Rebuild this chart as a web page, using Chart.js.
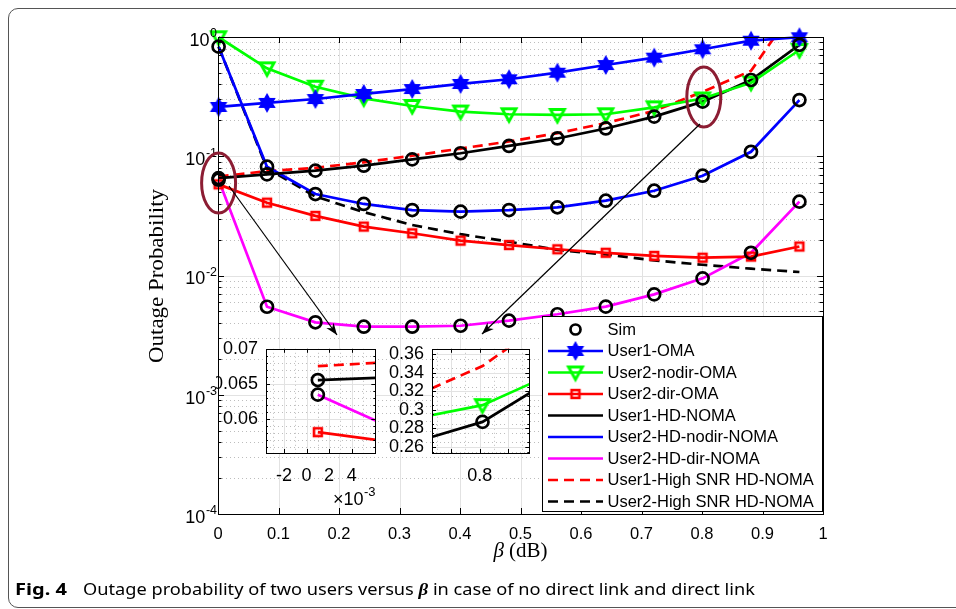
<!DOCTYPE html>
<html><head><meta charset="utf-8">
<script src="https://cdn.jsdelivr.net/npm/chart.js@4.4.1/dist/chart.umd.min.js"></script>
<style>
html,body{margin:0;padding:0;background:#fff;width:956px;height:609px;overflow:hidden;}
#frame{position:absolute;left:8px;top:8px;width:1000px;height:598px;border:1px solid #555;border-radius:10px;}
canvas{position:absolute;}
</style></head><body>
<div id="frame"></div>
<canvas id="main" width="956" height="609" style="left:0;top:0"></canvas>
<canvas id="insetL" width="170" height="180" style="left:216px;top:330px"></canvas>
<canvas id="insetR" width="154" height="160" style="left:386px;top:330px"></canvas>
<script>
// ---------------- data ----------------
const beta = [0.001, 0.081, 0.161, 0.241, 0.321, 0.401, 0.481, 0.561, 0.641, 0.721, 0.801, 0.881, 0.961];
const user1OMA      = [0.259, 0.280, 0.302, 0.333, 0.366, 0.404, 0.442, 0.502, 0.582, 0.671, 0.789, 0.931, 0.995];
const user2NodirOMA = [0.995, 0.546, 0.383, 0.306, 0.264, 0.237, 0.225, 0.222, 0.225, 0.257, 0.305, 0.414, 0.778];
const user2DirOMA   = [0.0581, 0.0408, 0.0316, 0.0257, 0.0226, 0.0196, 0.0180, 0.0166, 0.0155, 0.0146, 0.0141, 0.0144, 0.0175];
const user1HDNOMA   = [0.0656, 0.0705, 0.0757, 0.0833, 0.0942, 0.106, 0.122, 0.141, 0.171, 0.215, 0.287, 0.436, 0.86];
const user2HDNodir  = [0.83, 0.0817, 0.0482, 0.0398, 0.0354, 0.0343, 0.0354, 0.0373, 0.0424, 0.0514, 0.0687, 0.109, 0.296];
const user2HDDir    = [0.0635, 0.00547, 0.00405, 0.00372, 0.00372, 0.00379, 0.00418, 0.00473, 0.00548, 0.00695, 0.00946, 0.0155, 0.0416];
const user1HighSNR  = [0.0676, 0.075, 0.080, 0.089, 0.101, 0.116, 0.133, 0.156, 0.19, 0.24, 0.347, 0.52, 2.0];
const user2HighSNR  = [0.83, 0.079, 0.046, 0.034, 0.0265, 0.0222, 0.0192, 0.0164, 0.0150, 0.0134, 0.0123, 0.0114, 0.0107];

const seriesLabels = ['Sim','User1-OMA','User2-nodir-OMA','User2-dir-OMA','User1-HD-NOMA','User2-HD-nodir-NOMA','User2-HD-dir-NOMA','User1-High SNR HD-NOMA','User2-High SNR HD-NOMA'];
const xTickValues = [0,0.1,0.2,0.3,0.4,0.5,0.6,0.7,0.8,0.9,1];
const yDecadeExps = [-4,-3,-2,-1,0];
const insetLXTicks = [-0.002, 0, 0.002, 0.004];
const insetLYTicks = [0.06, 0.065, 0.07];
const insetRXTicks = [0.8];
const insetRYTicks = [0.26, 0.28, 0.30, 0.32, 0.34, 0.36];
const captionBold = 'Fig. 4';
const captionParts = ['Outage probability of two users versus ', 'β', ' in case of no direct link and direct link'];

// ---------------- markers ----------------
function mk(size, fn){const c=document.createElement('canvas');c.width=c.height=size;const g=c.getContext('2d');g.translate(size/2,size/2);fn(g);return c;}
const starImg = mk(22, g=>{g.beginPath();for(let i=0;i<12;i++){const r=i%2===0?8.6:4.9;const a=-Math.PI/2+i*Math.PI/6;g.lineTo(r*Math.cos(a),r*Math.sin(a));}g.closePath();g.fillStyle='#0000ff';g.fill();g.lineWidth=1.4;g.strokeStyle='#0000ff';g.stroke();});
const triImg = mk(22, g=>{g.beginPath();g.moveTo(-7,-5.5);g.lineTo(7,-5.5);g.lineTo(0,7);g.closePath();g.lineWidth=2.9;g.lineJoin='miter';g.strokeStyle='#00ff00';g.stroke();});
const sqImg = mk(14, g=>{g.lineWidth=2.6;g.strokeStyle='#ff0000';g.strokeRect(-3.9,-3.9,7.8,7.8);});

const pts = arr => beta.map((b,i)=>({x:b,y:arr[i]}));
function buildDatasets(inset){
  const mclip = inset ? 0 : 14;
  return [
    {label:seriesLabels[0], data:[...pts(user1HDNOMA),...pts(user2HDNodir),...pts(user2HDDir)], showLine:false, pointStyle:'circle', pointRadius:6, pointBorderWidth:2.7, pointBorderColor:'#000', pointBackgroundColor:'rgba(0,0,0,0)', borderColor:'#000', clip:mclip},
    {label:seriesLabels[1], data:pts(user1OMA), borderColor:'#0000ff', borderWidth:2.7, pointStyle:starImg, pointRadius:8, clip:mclip},
    {label:seriesLabels[2], data:pts(user2NodirOMA), borderColor:'#00ff00', borderWidth:2.7, pointStyle:triImg, pointRadius:8, clip:mclip},
    {label:seriesLabels[3], data:pts(user2DirOMA), borderColor:'#ff0000', borderWidth:2.7, pointStyle:sqImg, pointRadius:6, clip:mclip},
    {label:seriesLabels[4], data:pts(user1HDNOMA), borderColor:'#000000', borderWidth:2.7, pointRadius:0, clip:inset?0:2},
    {label:seriesLabels[5], data:pts(user2HDNodir), borderColor:'#0000ff', borderWidth:2.7, pointRadius:0, clip:inset?0:2},
    {label:seriesLabels[6], data:pts(user2HDDir), borderColor:'#ff00ff', borderWidth:2.7, pointRadius:0, clip:inset?0:2},
    {label:seriesLabels[7], data:pts(user1HighSNR), borderColor:'#ff0000', borderWidth:2.7, borderDash:[10,6], pointRadius:0, clip:inset?0:1},
    {label:seriesLabels[8], data:pts(user2HighSNR), borderColor:'#000000', borderWidth:2.7, borderDash:[10,6], pointRadius:0, clip:inset?0:1}
  ];
}

function hline(ctx,x1,x2,y){ctx.beginPath();ctx.moveTo(x1,y);ctx.lineTo(x2,y);ctx.stroke();}
function vline(ctx,x,y1,y2){ctx.beginPath();ctx.moveTo(x,y1);ctx.lineTo(x,y2);ctx.stroke();}
const px = v => Math.round(v)+0.5;

function supLabel(ctx, base, exp, R, ty, bf, ef){
  ctx.textBaseline='middle'; ctx.textAlign='left';
  ctx.font=ef; const ew=ctx.measureText(exp).width;
  ctx.font=bf; const bw=ctx.measureText(base).width;
  ctx.fillText(base, R-ew-bw-0.5, ty+4);
  ctx.font=ef; ctx.fillText(exp, R-ew, ty-3);
}
function arrow(ctx,x1,y1,x2,y2){
  ctx.beginPath();ctx.moveTo(x1,y1);ctx.lineTo(x2,y2);ctx.stroke();
  const a=Math.atan2(y2-y1,x2-x1),L=12,W=4.5;
  ctx.beginPath();ctx.moveTo(x2,y2);
  ctx.lineTo(x2-L*Math.cos(a)+W*Math.sin(a), y2-L*Math.sin(a)-W*Math.cos(a));
  ctx.lineTo(x2-0.7*L*Math.cos(a), y2-0.7*L*Math.sin(a));
  ctx.lineTo(x2-L*Math.cos(a)-W*Math.sin(a), y2-L*Math.sin(a)+W*Math.cos(a));
  ctx.closePath();ctx.fill();
}

const mainPlugin = {
  id:'mainDeco',
  beforeDatasetsDraw(chart){
    const {ctx, chartArea:a, scales:{x,y}} = chart;
    ctx.save(); ctx.lineWidth=1;
    ctx.strokeStyle='#bdbdbd'; ctx.setLineDash([1,3]);
    yDecadeExps.slice(0,-1).forEach(e=>{for(let m=2;m<=9;m++){hline(ctx,a.left,a.right,px(y.getPixelForValue(m*Math.pow(10,e))));}});
    ctx.setLineDash([]); ctx.strokeStyle='#e2e2e2';
    xTickValues.slice(1,-1).forEach(v=>vline(ctx,px(x.getPixelForValue(v)),a.top,a.bottom));
    yDecadeExps.slice(1,-1).forEach(e=>hline(ctx,a.left,a.right,px(y.getPixelForValue(Math.pow(10,e)))));
    ctx.restore();
  },
  afterDatasetsDraw(chart){
    const {ctx, chartArea:a, scales:{x,y}} = chart;
    ctx.save();
    ctx.strokeStyle='#000'; ctx.lineWidth=1;
    ctx.strokeRect(px(a.left),px(a.top),Math.round(a.right-a.left),Math.round(a.bottom-a.top));
    xTickValues.forEach(v=>{const p=px(x.getPixelForValue(v));vline(ctx,p,a.bottom,a.bottom-6);vline(ctx,p,a.top,a.top+6);});
    yDecadeExps.forEach((e,i)=>{
      const p=px(y.getPixelForValue(Math.pow(10,e)));hline(ctx,a.left,a.left+6,p);hline(ctx,a.right,a.right-6,p);
      if(i<yDecadeExps.length-1){for(let m=2;m<=9;m++){const q=px(y.getPixelForValue(m*Math.pow(10,e)));hline(ctx,a.left,a.left+3.5,q);hline(ctx,a.right,a.right-3.5,q);}}
    });
    ctx.fillStyle='#000';
    yDecadeExps.forEach(e=>supLabel(ctx,'10',String(e),217,y.getPixelForValue(Math.pow(10,e)),'18px "Liberation Sans"','12.5px "Liberation Sans"'));
    ctx.strokeStyle='#8c1d33'; ctx.lineWidth=3;
    [[0.001,0.0597],[0.803,0.314]].forEach(([ex,ey])=>{ctx.beginPath();ctx.ellipse(x.getPixelForValue(ex),y.getPixelForValue(ey),17,30,0,0,Math.PI*2);ctx.stroke();});
    ctx.strokeStyle='#000'; ctx.fillStyle='#000'; ctx.lineWidth=1.2;
    arrow(ctx,229,186,337,335);
    arrow(ctx,700,124,482,334);
    // legend
    const L=542.5,T=316.5,W=280,H=195;
    ctx.lineWidth=1; ctx.fillStyle='#fff'; ctx.fillRect(L,T,W,H); ctx.strokeStyle='#000'; ctx.strokeRect(L,T,W,H);
    chart.data.datasets.forEach((ds,i)=>{
      const cy=329.5+i*21.5;
      if(ds.showLine!==false){ctx.save();ctx.strokeStyle=ds.borderColor;ctx.lineWidth=ds.borderWidth;ctx.setLineDash(ds.borderDash||[]);hline(ctx,548,603,cy);ctx.restore();}
      const ps=ds.pointStyle;
      if(ps && typeof ps==='object'){ctx.drawImage(ps,575.5-ps.width/2,cy-ps.height/2);}
      else if(ps==='circle' && ds.pointRadius>0){ctx.save();ctx.strokeStyle='#000';ctx.lineWidth=2.7;ctx.beginPath();ctx.arc(575.5,cy,5,0,Math.PI*2);ctx.stroke();ctx.restore();}
      ctx.fillStyle='#000';ctx.font='16.5px "Liberation Sans"';ctx.textAlign='left';ctx.textBaseline='middle';
      ctx.fillText(ds.label,607.5,cy+0.5);
    });
    // axis titles
    ctx.fillStyle='#000';
    ctx.save(); ctx.translate(157,276); ctx.rotate(-Math.PI/2);
    ctx.font='21px "Liberation Serif"'; ctx.textAlign='center'; ctx.textBaseline='middle';
    const yt='Outage Probability'; const yw=ctx.measureText(yt).width; ctx.scale(174/yw,1); ctx.fillText(yt,0,0); ctx.restore();
    ctx.textBaseline='middle'; ctx.textAlign='left';
    ctx.font='italic 21px "Liberation Serif"'; const bw=ctx.measureText('β').width;
    ctx.font='21px "Liberation Serif"'; const rw=ctx.measureText(' (dB)').width;
    const cx=(a.left+a.right)/2, sx=cx-(bw+rw)/2;
    ctx.font='italic 21px "Liberation Serif"'; ctx.fillText('β',sx,551);
    ctx.font='21px "Liberation Serif"'; ctx.fillText(' (dB)',sx+bw,551);
    // caption
    ctx.textBaseline='alphabetic';
    ctx.save(); ctx.font='bold 16px "Noto Sans"'; const fw=ctx.measureText(captionBold).width;
    ctx.translate(15,594.5); ctx.scale(52/fw,1); ctx.fillText(captionBold,0,0); ctx.restore();
    const fonts=['16.5px "Noto Sans"','italic bold 17px "Liberation Serif"','16.5px "Noto Sans"'];
    let tw=0; const ws=captionParts.map((s,i)=>{ctx.font=fonts[i];const w=ctx.measureText(s).width;tw+=w;return w;});
    ctx.save(); ctx.translate(83,594.5); ctx.scale(672/tw,1); let xx=0;
    captionParts.forEach((s,i)=>{ctx.font=fonts[i];ctx.fillText(s,xx,0);xx+=ws[i];});
    ctx.restore();
    ctx.restore();
  }
};

new Chart(document.getElementById('main'),{
  type:'line',
  data:{datasets:buildDatasets(false)},
  options:{
    responsive:false, animation:false, events:[],
    layout:{padding:{left:0,top:37,right:133,bottom:0}},
    plugins:{legend:{display:false},tooltip:{enabled:false}},
    scales:{
      x:{type:'linear',min:0,max:1,
        afterBuildTicks:s=>{s.ticks=xTickValues.map(v=>({value:v}));},
        afterFit:s=>{s.height=95;},
        grid:{display:false,drawTicks:false},border:{display:false},
        ticks:{autoSkip:false,maxRotation:0,padding:11,color:'#000',font:{family:'Liberation Sans',size:16.5},callback:v=>String(Math.round(v*10)/10)}},
      y:{type:'logarithmic',min:1e-4,max:1,
        afterFit:s=>{s.width=218;},
        grid:{display:false,drawTicks:false},border:{display:false},ticks:{display:false}}
    }
  },
  plugins:[mainPlugin]
});

function insetPlugin(cfg){
  return {
    id:'insetDeco',
    beforeDatasetsDraw(chart){
      const {ctx, chartArea:a, scales:{x,y}} = chart;
      ctx.save(); ctx.fillStyle='#fff'; ctx.fillRect(a.left,a.top,a.right-a.left,a.bottom-a.top);
      ctx.lineWidth=1; ctx.strokeStyle='#bdbdbd'; ctx.setLineDash([1,3]);
      cfg.yMinor.forEach(v=>hline(ctx,a.left,a.right,px(y.getPixelForValue(v))));
      cfg.xMinor.forEach(v=>vline(ctx,px(x.getPixelForValue(v)),a.top,a.bottom));
      ctx.setLineDash([]); ctx.strokeStyle='#e2e2e2';
      cfg.yMajor.forEach(v=>hline(ctx,a.left,a.right,px(y.getPixelForValue(v))));
      cfg.xMajor.forEach(v=>vline(ctx,px(x.getPixelForValue(v)),a.top,a.bottom));
      ctx.restore();
    },
    afterDatasetsDraw(chart){
      const {ctx, chartArea:a, scales:{x,y}} = chart;
      ctx.save(); ctx.strokeStyle='#000'; ctx.lineWidth=1;
      ctx.strokeRect(px(a.left),px(a.top),Math.round(a.right-a.left),Math.round(a.bottom-a.top));
      cfg.yMajor.forEach(v=>{const p=px(y.getPixelForValue(v));hline(ctx,a.left,a.left+4,p);hline(ctx,a.right,a.right-4,p);});
      cfg.yMinor.forEach(v=>{const p=px(y.getPixelForValue(v));hline(ctx,a.left,a.left+2,p);hline(ctx,a.right,a.right-2,p);});
      cfg.xMajor.forEach(v=>{const p=px(x.getPixelForValue(v));vline(ctx,p,a.bottom,a.bottom-4);vline(ctx,p,a.top,a.top+4);});
      if(cfg.extra) cfg.extra(ctx);
      ctx.restore();
    }
  };
}
function range(a,b,s){const r=[];for(let v=a;v<=b+1e-12;v+=s)r.push(+v.toFixed(6));return r;}

function makeInset(id, o){
  new Chart(document.getElementById(id),{
    type:'line',
    data:{datasets:buildDatasets(true)},
    options:{
      responsive:false, animation:false, events:[],
      layout:{padding:{left:0,top:6,right:o.padRight,bottom:0}},
      plugins:{legend:{display:false},tooltip:{enabled:false}},
      scales:{
        x:{type:'linear',min:o.xmin,max:o.xmax,
          afterBuildTicks:s=>{s.ticks=o.xTicks.map(v=>({value:v}));},
          afterFit:s=>{s.height=o.xH;},
          grid:{display:false,drawTicks:false},border:{display:false},
          ticks:{autoSkip:false,maxRotation:0,padding:12,color:'#000',font:{family:'Liberation Sans',size:18},callback:o.xcb}},
        y:{type:'linear',min:o.ymin,max:o.ymax,
          afterBuildTicks:s=>{s.ticks=o.yTicks.map(v=>({value:v}));},
          afterFit:s=>{s.width=o.yW;},
          grid:{display:false,drawTicks:false},border:{display:false},
          ticks:{autoSkip:false,padding:8,color:'#000',font:{family:'Liberation Sans',size:18},callback:v=>String(+v.toFixed(3))}}
      }
    },
    plugins:[insetPlugin(o.grid)]
  });
}

makeInset('insetL',{xmin:-0.0036,xmax:0.0061,ymin:0.0551,ymax:0.0701,xTicks:insetLXTicks,yTicks:insetLYTicks,
  xH:57,yW:50,padRight:4,xcb:v=>String(Math.round(v*1000)),
  grid:{xMajor:insetLXTicks,xMinor:range(-0.003,0.005,0.002),yMajor:insetLYTicks,yMinor:range(0.056,0.069,0.001).filter(v=>Math.abs(v-0.06)>1e-6&&Math.abs(v-0.065)>1e-6),
    extra:ctx=>{ctx.fillStyle='#000';ctx.textBaseline='middle';ctx.textAlign='left';ctx.font='18px "Liberation Sans"';
      ctx.fillText('×10',117,170);const w=ctx.measureText('×10').width;ctx.font='13px "Liberation Sans"';ctx.fillText('-3',117+w+0.5,162);}}});

makeInset('insetR',{xmin:0.7832,xmax:0.8175,ymin:0.2536,ymax:0.3655,xTicks:insetRXTicks,yTicks:insetRYTicks,
  xH:37,yW:46,padRight:5,xcb:v=>String(v),
  grid:{xMajor:[0.79,0.8,0.81],xMinor:[0.785,0.795,0.805,0.815],yMajor:insetRYTicks,yMinor:range(0.255,0.365,0.01)}});
</script></body></html>
